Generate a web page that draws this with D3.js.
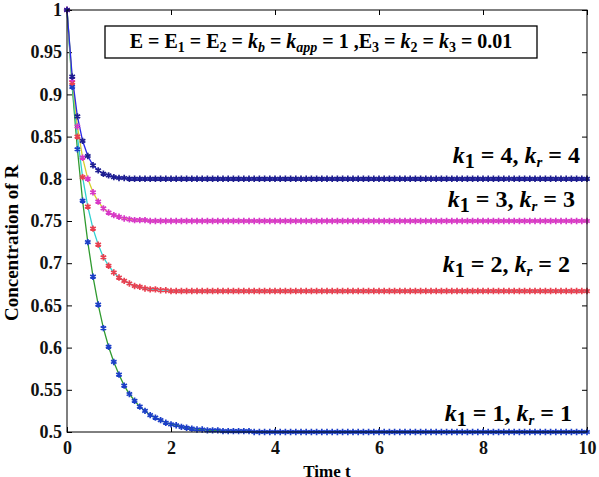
<!DOCTYPE html>
<html>
<head>
<meta charset="utf-8">
<script src="https://cdn.jsdelivr.net/npm/d3@7"></script>
<style>
  body { margin: 0; background: #fff; }
  .tick line { stroke: #000; }
</style>
</head>
<body>
<div id="chart"></div>
<script>
// time points of the markers
var times = [
  0,0.1,0.2,0.3,0.4,0.5,0.6,0.7,0.8,0.9,
  1,1.1,1.2,1.3,1.4,1.5,1.6,1.7,1.8,1.9,
  2,2.1,2.2,2.3,2.4,2.5,2.6,2.7,2.8,2.9,
  3,3.1,3.2,3.3,3.4,3.5,3.6,3.7,3.8,3.9,
  4,4.1,4.2,4.3,4.4,4.5,4.6,4.7,4.8,4.9,
  5,5.1,5.2,5.3,5.4,5.5,5.6,5.7,5.8,5.9,
  6,6.1,6.2,6.3,6.4,6.5,6.6,6.7,6.8,6.9,
  7,7.1,7.2,7.3,7.4,7.5,7.6,7.7,7.8,7.9,
  8,8.1,8.2,8.3,8.4,8.5,8.6,8.7,8.8,8.9,
  9,9.1,9.2,9.3,9.4,9.5,9.6,9.7,9.8,9.9,
  10
];

// concentration of R, k1 = kr = 1
var r1 = [
  1,0.909,0.835,0.774,0.725,0.684,0.651,0.623,0.601,0.583,
  0.568,0.555,0.545,0.537,0.530,0.525,0.520,0.517,0.514,0.511,
  0.509,0.508,0.506,0.505,0.504,0.503,0.503,0.502,0.502,0.502,
  0.501,0.501,0.501,0.501,0.501,0.501,0.5,0.5,0.5,0.5,
  0.5,0.5,0.5,0.5,0.5,0.5,0.5,0.5,0.5,0.5,
  0.5,0.5,0.5,0.5,0.5,0.5,0.5,0.5,0.5,0.5,
  0.5,0.5,0.5,0.5,0.5,0.5,0.5,0.5,0.5,0.5,
  0.5,0.5,0.5,0.5,0.5,0.5,0.5,0.5,0.5,0.5,
  0.5,0.5,0.5,0.5,0.5,0.5,0.5,0.5,0.5,0.5,
  0.5,0.5,0.5,0.5,0.5,0.5,0.5,0.5,0.5,0.5,
  0.5
];

// k1 = kr = 2
var r2 = [
  1,0.914,0.850,0.802,0.767,0.741,0.722,0.707,0.697,0.689,
  0.683,0.679,0.676,0.673,0.672,0.670,0.669,0.669,0.668,0.668,
  0.667,0.667,0.667,0.667,0.667,0.667,0.667,0.667,0.667,0.667,
  0.667,0.667,0.667,0.667,0.667,0.667,0.667,0.667,0.667,0.667,
  0.667,0.667,0.667,0.667,0.667,0.667,0.667,0.667,0.667,0.667,
  0.667,0.667,0.667,0.667,0.667,0.667,0.667,0.667,0.667,0.667,
  0.667,0.667,0.667,0.667,0.667,0.667,0.667,0.667,0.667,0.667,
  0.667,0.667,0.667,0.667,0.667,0.667,0.667,0.667,0.667,0.667,
  0.667,0.667,0.667,0.667,0.667,0.667,0.667,0.667,0.667,0.667,
  0.667,0.667,0.667,0.667,0.667,0.667,0.667,0.667,0.667,0.667,
  0.667
];

// k1 = kr = 3
var r3 = [
  1,0.918,0.862,0.825,0.800,0.784,0.773,0.765,0.760,0.757,
  0.755,0.753,0.752,0.751,0.751,0.751,0.75,0.75,0.75,0.75,
  0.75,0.75,0.75,0.75,0.75,0.75,0.75,0.75,0.75,0.75,
  0.75,0.75,0.75,0.75,0.75,0.75,0.75,0.75,0.75,0.75,
  0.75,0.75,0.75,0.75,0.75,0.75,0.75,0.75,0.75,0.75,
  0.75,0.75,0.75,0.75,0.75,0.75,0.75,0.75,0.75,0.75,
  0.75,0.75,0.75,0.75,0.75,0.75,0.75,0.75,0.75,0.75,
  0.75,0.75,0.75,0.75,0.75,0.75,0.75,0.75,0.75,0.75,
  0.75,0.75,0.75,0.75,0.75,0.75,0.75,0.75,0.75,0.75,
  0.75,0.75,0.75,0.75,0.75,0.75,0.75,0.75,0.75,0.75,
  0.75
];

// k1 = kr = 4
var r4 = [
  1,0.921,0.874,0.845,0.827,0.816,0.810,0.806,0.804,0.802,
  0.801,0.801,0.8,0.8,0.8,0.8,0.8,0.8,0.8,0.8,
  0.8,0.8,0.8,0.8,0.8,0.8,0.8,0.8,0.8,0.8,
  0.8,0.8,0.8,0.8,0.8,0.8,0.8,0.8,0.8,0.8,
  0.8,0.8,0.8,0.8,0.8,0.8,0.8,0.8,0.8,0.8,
  0.8,0.8,0.8,0.8,0.8,0.8,0.8,0.8,0.8,0.8,
  0.8,0.8,0.8,0.8,0.8,0.8,0.8,0.8,0.8,0.8,
  0.8,0.8,0.8,0.8,0.8,0.8,0.8,0.8,0.8,0.8,
  0.8,0.8,0.8,0.8,0.8,0.8,0.8,0.8,0.8,0.8,
  0.8,0.8,0.8,0.8,0.8,0.8,0.8,0.8,0.8,0.8,
  0.8
];

var xTicks = [0, 2, 4, 6, 8, 10];
var yTicks = [0.5, 0.55, 0.6, 0.65, 0.7, 0.75, 0.8, 0.85, 0.9, 0.95, 1];

var series = [
  {k: 1, values: r1, line: "#2f9a2f", marker: "#1c3fc8"},
  {k: 2, values: r2, line: "#30d0d0", marker: "#e84050"},
  {k: 3, values: r3, line: "#d8cf30", marker: "#d838c8"},
  {k: 4, values: r4, line: "#2828e8", marker: "#1e1e90"}
];

var FONT = "'Liberation Serif', 'Times New Roman', serif";

var W = 599, H = 477,
    margin = {top: 10, right: 12, bottom: 45, left: 67},
    width = W - margin.left - margin.right,
    height = H - margin.top - margin.bottom;

var svg = d3.select("#chart").append("svg")
    .attr("width", W)
    .attr("height", H)
    .style("font-family", FONT);

var g = svg.append("g")
    .attr("transform", "translate(" + margin.left + "," + margin.top + ")");

var x = d3.scaleLinear().domain([0, 10]).range([0, width]);
var y = d3.scaleLinear().domain([0.5, 1]).range([height, 0]);

var yFmt = function(d) { return d === 1 ? "1" : String(+d.toFixed(2)); };

// axes, ticks pointing inwards (matlab style)
var axes = [];
axes.push(g.append("g")
    .attr("transform", "translate(0," + height + ")")
    .call(d3.axisBottom(x).tickValues(xTicks).tickSize(-5).tickPadding(9).tickFormat(d3.format("d"))));
axes.push(g.append("g")
    .call(d3.axisTop(x).tickValues(xTicks).tickSize(-5).tickFormat("")));
axes.push(g.append("g")
    .call(d3.axisLeft(y).tickValues(yTicks).tickSize(-5).tickPadding(5).tickFormat(yFmt)));
axes.push(g.append("g")
    .attr("transform", "translate(" + width + ",0)")
    .call(d3.axisRight(y).tickValues(yTicks).tickSize(-5).tickFormat("")));
axes.forEach(function(a) {
  a.attr("font-family", null).attr("font-size", null);
  a.selectAll("text")
      .style("font-family", FONT)
      .style("font-size", "18px")
      .style("font-weight", "bold")
      .attr("fill", "#111");
});
g.selectAll(".domain").remove();

// lines
var line = d3.line()
    .x(function(d, i) { return x(times[i]); })
    .y(function(d) { return y(d); });

series.forEach(function(s) {
  g.append("path")
      .datum(s.values)
      .attr("fill", "none")
      .attr("stroke", s.line)
      .attr("stroke-width", 1.3)
      .attr("d", line);
});

// asterisk markers
var star = d3.symbol().type(d3.symbolAsterisk).size(28);
series.forEach(function(s) {
  g.append("g").selectAll("path")
      .data(s.values)
    .enter().append("path")
      .attr("transform", function(d, i) { return "translate(" + x(times[i]) + "," + y(d) + ")"; })
      .attr("d", star)
      .attr("fill", "none")
      .attr("stroke", s.marker)
      .attr("stroke-width", 1.7);
});

// frame
g.append("rect")
    .attr("width", width)
    .attr("height", height)
    .attr("fill", "none")
    .attr("stroke", "#000")
    .attr("stroke-width", 1);

// parameter box
var box = g.append("g").attr("transform", "translate(" + (105 - margin.left) + "," + (26 - margin.top) + ")");
box.append("rect")
    .attr("width", 432).attr("height", 32)
    .attr("fill", "#fff").attr("stroke", "#000").attr("stroke-width", 1.3);
var bt = box.append("text")
    .attr("x", 216).attr("y", 22)
    .attr("text-anchor", "middle")
    .style("font-family", FONT)
    .style("font-size", "20px").style("font-weight", "bold");
var parts = [
  ["E = E", ""], ["1", "sub"], [" = E", ""], ["2", "sub"], [" = ", ""],
  ["k", "it"], ["b", "subit"], [" = ", ""], ["k", "it"], ["app", "subit"],
  [" = 1 ,E", ""], ["3", "sub"], [" = ", ""], ["k", "it"], ["2", "sub"],
  [" = ", ""], ["k", "it"], ["3", "sub"], [" = 0.01", ""]
];
var shift = 0;
parts.forEach(function(p) {
  var isSub = p[1] === "sub" || p[1] === "subit";
  var dy = (isSub ? 4 : 0) - shift;
  shift = isSub ? 4 : 0;
  bt.append("tspan")
      .attr("dy", dy)
      .style("font-size", isSub ? "14px" : null)
      .style("font-style", (p[1] === "it" || p[1] === "subit") ? "italic" : null)
      .text(p[0]);
});

// curve labels
var labelPos = [{k: 1, x: 572, y: 421}, {k: 2, x: 570, y: 272}, {k: 3, x: 575, y: 207}, {k: 4, x: 580, y: 163}];
labelPos.forEach(function(l) {
  var t = svg.append("text")
      .attr("x", l.x).attr("y", l.y)
      .attr("text-anchor", "end")
      .style("font-family", FONT)
      .style("font-size", "24px").style("font-weight", "bold");
  t.append("tspan").style("font-style", "italic").text("k");
  t.append("tspan").attr("dy", 5).style("font-size", "20px").text("1");
  t.append("tspan").attr("dy", -5).text(" = " + l.k + ", ");
  t.append("tspan").style("font-style", "italic").text("k");
  t.append("tspan").attr("dy", 4).style("font-size", "15px").style("font-style", "italic").text("r");
  t.append("tspan").attr("dy", -4).text("  = " + l.k);
});

// axis titles
svg.append("text")
    .attr("x", margin.left + width / 2).attr("y", 477)
    .attr("text-anchor", "middle")
    .style("font-family", FONT)
    .style("font-size", "17px").style("font-weight", "bold")
    .text("Time t");

svg.append("text")
    .attr("transform", "translate(18,243) rotate(-90)")
    .attr("text-anchor", "middle")
    .style("font-family", FONT)
    .style("font-size", "19px").style("font-weight", "bold")
    .text("Concentration of R");
</script>
</body>
</html>
